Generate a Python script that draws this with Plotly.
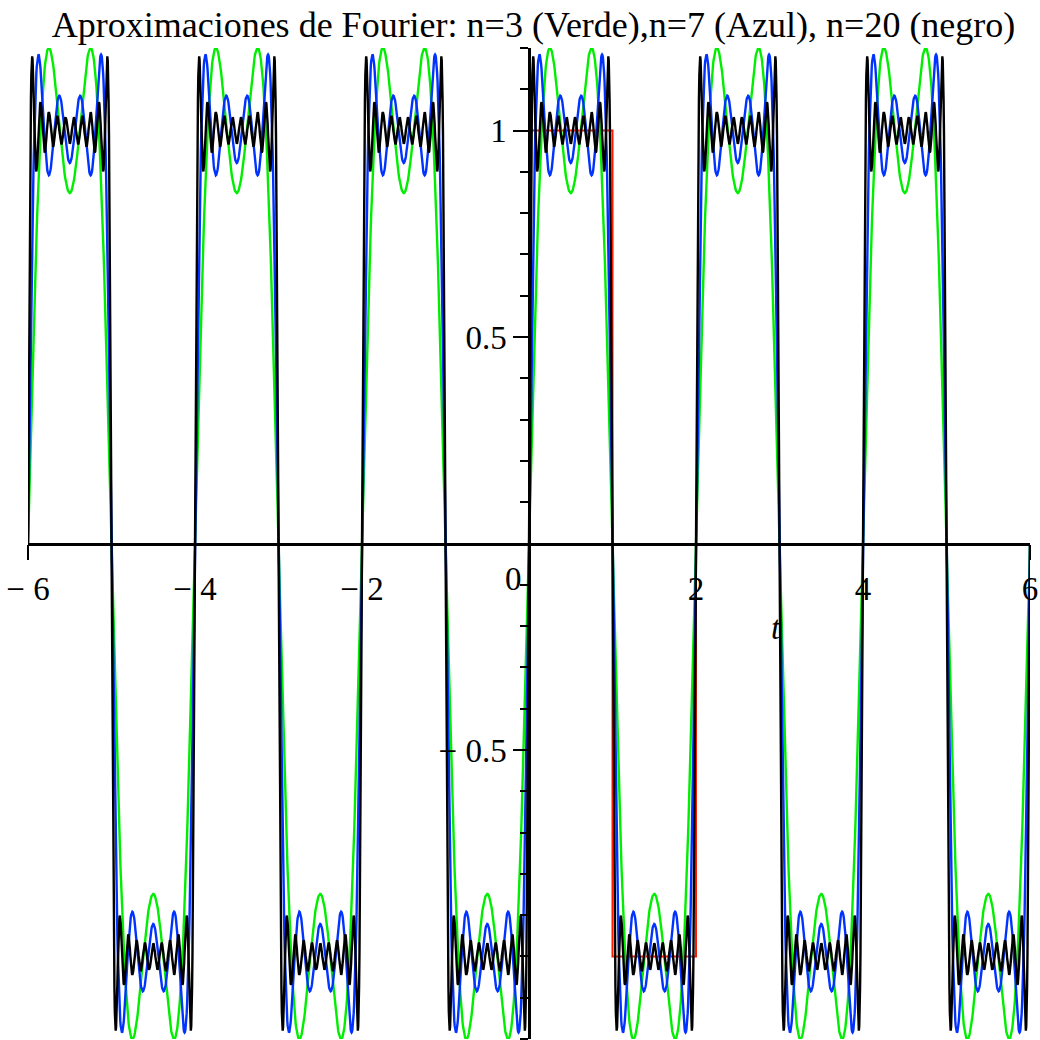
import numpy as np
import plotly.graph_objects as go

# Fourier sine coefficients (odd harmonics k, amplitude 4/(pi*k)) of the square wave
harm_green = [1, 3]                                   # n=3
harm_blue = [1, 3, 5, 7]                              # n=7
harm_black = [1, 3, 5, 7, 9, 11, 13, 15, 17, 19]      # n=20
coef = {k: 4.0 / (np.pi * k) for k in harm_black}

# the square wave itself (one period)
red_t = [0, 0, 1, 1, 2, 2]
red_y = [0, 1, 1, -1, -1, 0]

x_ticks = [-6, -4, -2, 2, 4, 6]
x_text = ["\u2212 6", "\u2212 4", "\u2212 2", "2", "4", "6"]
y_ticks = [-0.5, 0.5, 1]
y_text = ["\u2212 0.5", "0.5", "1"]

t = np.linspace(-6, 6, 2401)


def partial(harms):
    return sum(coef[k] * np.sin(k * np.pi * t) for k in harms)


fig = go.Figure()
fig.add_trace(go.Scatter(x=red_t, y=red_y, mode="lines",
                         line=dict(color="#ff1a00", width=2)))
fig.add_trace(go.Scatter(x=t, y=partial(harm_green), mode="lines",
                         line=dict(color="#00ee00", width=2.4)))
fig.add_trace(go.Scatter(x=t, y=partial(harm_blue), mode="lines",
                         line=dict(color="#0033ff", width=2.4)))
fig.add_trace(go.Scatter(x=t, y=partial(harm_black), mode="lines",
                         line=dict(color="#000000", width=2.4)))

font = "Liberation Serif, Times New Roman, serif"
fig.update_layout(
    width=1040, height=1040,
    margin=dict(l=28, r=10, t=48, b=1),
    paper_bgcolor="white", plot_bgcolor="white",
    showlegend=False,
    font=dict(family=font, size=33, color="black"),
    title=dict(text="Aproximaciones de Fourier: n=3 (Verde),n=7 (Azul), n=20 (negro)",
               x=0.513, xanchor="center", y=0.977, yanchor="middle",
               font=dict(family=font, size=36, color="black")),
    xaxis=dict(range=[-6, 6], anchor="free", position=0.5, layer="above traces",
               showline=True, linecolor="black", linewidth=2.5,
               showgrid=False, zeroline=False,
               tickvals=x_ticks, ticktext=x_text,
               ticks="outside", ticklen=15, tickwidth=2, tickcolor="black",
               tickfont=dict(family=font, size=33)),
    yaxis=dict(range=[-1.2, 1.2], anchor="free", position=0.5, layer="above traces",
               showline=True, linecolor="black", linewidth=2.5,
               showgrid=False, zeroline=False,
               tickvals=y_ticks, ticktext=y_text,
               ticks="outside", ticklen=15, tickwidth=2, tickcolor="black",
               tickfont=dict(family=font, size=33),
               minor=dict(dtick=0.1, tick0=0, ticks="outside", ticklen=8,
                          tickwidth=2, tickcolor="black", showgrid=False)),
)

fig.add_annotation(x=-0.18, y=-0.085, text="0", showarrow=False,
                   font=dict(family=font, size=33), xanchor="center", yanchor="middle")
fig.add_annotation(x=2.96, y=-0.205, text="<i>t</i>", showarrow=False,
                   font=dict(family=font, size=33), xanchor="center", yanchor="middle")

fig.write_html("out.html")
